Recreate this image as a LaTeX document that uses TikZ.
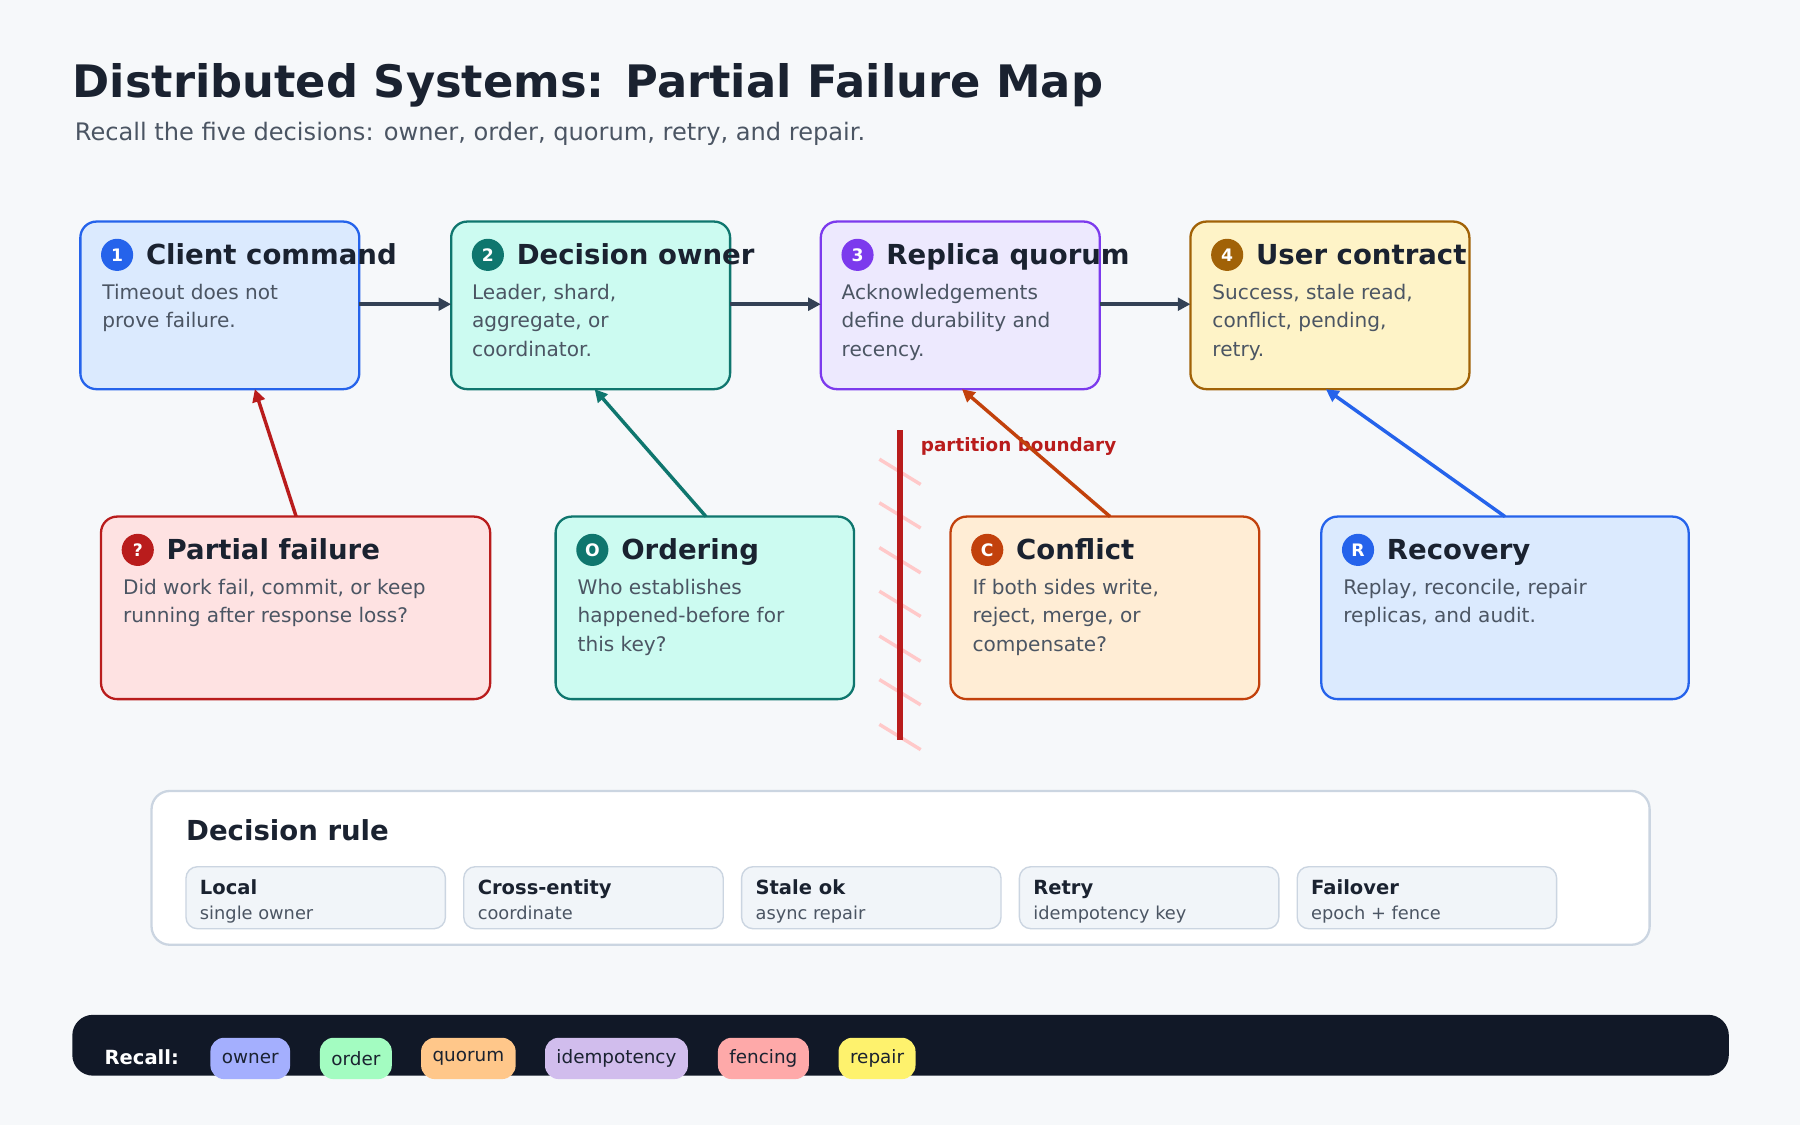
\documentclass[tikz,border=0pt]{standalone}
\usepackage{fontspec}
\setmainfont{DejaVu Sans}
\usetikzlibrary{arrows.meta,calc}
\definecolor{bgc}{HTML}{F6F8FA}
\definecolor{ink}{HTML}{1A2230}
\definecolor{muted}{HTML}{4B5563}
\definecolor{arr}{HTML}{334155}
\definecolor{bluef}{HTML}{DBEAFE}\definecolor{blued}{HTML}{2563EB}
\definecolor{tealf}{HTML}{CCFBF1}\definecolor{teald}{HTML}{0F766E}
\definecolor{purpf}{HTML}{EDE9FE}\definecolor{purpd}{HTML}{7C3AED}
\definecolor{yellf}{HTML}{FEF3C7}\definecolor{yelld}{HTML}{A16207}
\definecolor{redf}{HTML}{FEE2E2}\definecolor{redd}{HTML}{B91C1C}
\definecolor{orgf}{HTML}{FFEDD5}\definecolor{orgd}{HTML}{C2410C}
\definecolor{chipf}{HTML}{F1F5F9}\definecolor{chipd}{HTML}{CBD5E1}
\definecolor{barc}{HTML}{111827}
\tikzset{
  card/.style={rounded corners=14pt, line width=2pt},
  badge/.style={circle, inner sep=0pt, minimum size=28pt, text=white, font=\bfseries\fontsize{15}{15}\selectfont},
  ctitle/.style={anchor=base west, inner sep=0pt, text=ink, font=\bfseries\fontsize{24}{24}\selectfont},
  cbody/.style={anchor=north west, inner sep=0pt, align=left, text=muted, font=\fontsize{17.5}{25}\selectfont},
  link/.style={line width=3pt, -{Triangle[length=11pt,width=11pt]}},
  chip/.style={rounded corners=10pt, fill=chipf, draw=chipd, line width=1.2pt},
  pill/.style={rounded corners=12pt, minimum height=36pt, inner xsep=10pt, text=ink, font=\fontsize{16}{16}\selectfont},
}
\newcommand{\card}[8]{% name, x1, y1, x2, y2, fill, draw, badge
  \draw[card, fill=#6, draw=#7] (#2,#3) rectangle (#4,#5);
  \node[badge, fill=#7] (#1b) at (#2+32,#3+29) {#8};
}
\begin{document}
\begin{tikzpicture}[x=1pt,y=-1pt]
  \fill[bgc] (0,0) rectangle (1568,980);
  \node[anchor=base west, inner sep=0pt, text=ink, font=\bfseries\fontsize{39}{39}\selectfont] (title) at (63,85) {Distributed Systems: Partial Failure Map};
  \node[anchor=base west, inner sep=0pt, text=muted, font=\fontsize{21}{21}\selectfont] (sub) at (65,122) {Recall the five decisions: owner, order, quorum, retry, and repair.};

  % top row
  \card{c1}{70}{193}{313}{339}{bluef}{blued}{1}
  \card{c2}{393}{193}{636}{339}{tealf}{teald}{2}
  \card{c3}{715}{193}{958}{339}{purpf}{purpd}{3}
  \card{c4}{1037}{193}{1280}{339}{yellf}{yelld}{4}
  \node[ctitle] (t1) at (127,230) {Client command};
  \node[ctitle] (t2) at (450,230) {Decision owner};
  \node[ctitle] (t3) at (772,230) {Replica quorum};
  \node[ctitle] (t4) at (1094,230) {User contract};
  \node[cbody] (b1) at (89,247) {Timeout does not\\prove failure.};
  \node[cbody] (b2) at (411,247) {Leader, shard,\\aggregate, or\\coordinator.};
  \node[cbody] (b3) at (733,247) {Acknowledgements\\define durability and\\recency.};
  \node[cbody] (b4) at (1056,247) {Success, stale read,\\conflict, pending,\\retry.};
  \coordinate (c1r) at (313,265); \coordinate (c2l) at (393,265);
  \coordinate (c2r) at (636,265); \coordinate (c3l) at (715,265);
  \coordinate (c3r) at (958,265); \coordinate (c4l) at (1037,265);
  \draw[link, arr] (c1r) -- (c2l);
  \draw[link, arr] (c2r) -- (c3l);
  \draw[link, arr] (c3r) -- (c4l);

  % bottom row
  \card{d1}{88}{450}{427}{609}{redf}{redd}{?}
  \card{d2}{484}{450}{744}{609}{tealf}{teald}{O}
  \card{d3}{828}{450}{1097}{609}{orgf}{orgd}{C}
  \card{d4}{1151}{450}{1471}{609}{bluef}{blued}{R}
  \node[ctitle] (u1) at (145,487) {Partial failure};
  \node[ctitle] (u2) at (541,487) {Ordering};
  \node[ctitle] (u3) at (885,487) {Conflict};
  \node[ctitle] (u4) at (1208,487) {Recovery};
  \node[cbody] (v1) at (107,504) {Did work fail, commit, or keep\\running after response loss?};
  \node[cbody] (v2) at (503,504) {Who establishes\\happened-before for\\this key?};
  \node[cbody] (v3) at (847,504) {If both sides write,\\reject, merge, or\\compensate?};
  \node[cbody] (v4) at (1170,504) {Replay, reconcile, repair\\replicas, and audit.};

  % partition
  \foreach \y in {400,438,477,515,554,592,631}
    \draw[redf!60!red!45, line width=3pt] (766,\y) -- (802,\y+22);
  \draw[redd, line width=5pt] (784,375) -- (784,645);
  \node[anchor=base west, inner sep=0pt, text=redd, font=\bfseries\fontsize{16}{16}\selectfont] (part) at (802,393) {partition boundary};

  \coordinate (d1t) at (258,450); \coordinate (c1b) at (222,339);
  \coordinate (d2t) at (615,450); \coordinate (c2b) at (518,339);
  \coordinate (d3t) at (967,450); \coordinate (c3b) at (838,339);
  \coordinate (d4t) at (1311,450); \coordinate (c4b) at (1155,339);
  \draw[link, redd] (d1t) -- (c1b);
  \draw[link, teald] (d2t) -- (c2b);
  \draw[link, orgd] (d3t) -- (c3b);
  \draw[link, blued] (d4t) -- (c4b);

  % decision rule
  \draw[rounded corners=16pt, fill=white, draw=chipd, line width=2pt] (132,689) rectangle (1437,823);
  \node[anchor=base west, inner sep=0pt, text=ink, font=\bfseries\fontsize{24}{24}\selectfont] (rule) at (162,732) {Decision rule};
  \foreach \x/\a/\b [count=\i] in {162/Local/single owner, 404/Cross-entity/coordinate, 646/Stale ok/async repair, 888/Retry/idempotency key, 1130/Failover/epoch + fence}{
    \draw[chip] (\x,755) rectangle (\x+226,809);
    \node[anchor=base west, inner sep=0pt, text=ink, font=\bfseries\fontsize{17}{17}\selectfont] (r\i) at (\x+12,779) {\a};
    \node[anchor=base west, inner sep=0pt, text=muted, font=\fontsize{15.5}{16}\selectfont] (s\i) at (\x+12,801) {\b};
  }

  % recall bar
  \fill[barc, rounded corners=18pt] (63,884) rectangle (1506,937);
  \node[anchor=base west, inner sep=0pt, text=white, font=\bfseries\fontsize{17}{17}\selectfont] (recall) at (91,927) {Recall:};
  \node[pill, fill=blue!25!bluef] (p1) at (218,922) {owner};
  \node[pill, fill=green!20!tealf] (p2) at (310,922) {order};
  \node[pill, fill=orange!35!orgf] (p3) at (408,922) {quorum};
  \node[pill, fill=purple!10!purpf!90!blue] (p4) at (537,922) {idempotency};
  \node[pill, fill=red!25!redf] (p5) at (665,922) {fencing};
  \node[pill, fill=yellow!45!yellf] (p6) at (764,922) {repair};
\end{tikzpicture}
\end{document}
